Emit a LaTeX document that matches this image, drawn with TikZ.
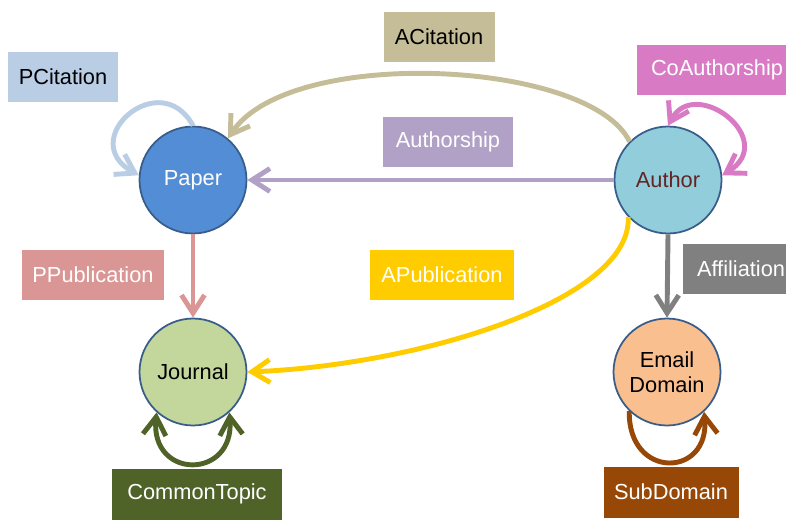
\documentclass[tikz,border=0pt]{standalone}
\usepackage{fontspec}
\setmainfont{Liberation Sans}
\usetikzlibrary{arrows.meta, positioning}

\definecolor{borderblue}{RGB}{56,93,138}
\definecolor{paperfill}{RGB}{83,141,213}
\definecolor{authorfill}{RGB}{146,205,220}
\definecolor{journalfill}{RGB}{195,214,155}
\definecolor{emailfill}{RGB}{250,191,143}
\definecolor{authortext}{RGB}{99,37,35}
\definecolor{pcitcol}{RGB}{185,205,229}
\definecolor{acitcol}{RGB}{196,189,151}
\definecolor{authshipcol}{RGB}{178,161,199}
\definecolor{coauthcol}{RGB}{217,123,196}
\definecolor{ppubcol}{RGB}{217,150,148}
\definecolor{apubcol}{RGB}{255,204,0}
\definecolor{affilcol}{RGB}{128,128,128}
\definecolor{topiccol}{RGB}{79,98,40}
\definecolor{subdomcol}{RGB}{151,72,6}

\begin{document}
\begin{tikzpicture}[
    x=0.02cm, y=-0.02cm,
    entity/.style={
        circle,
        draw=borderblue,
        line width=1pt,
        minimum size=2.14cm,
        inner sep=0pt,
        align=center,
        font=\fontsize{12.4}{14.5}\selectfont
    },
    relation/.style={
        rectangle,
        minimum height=1.02cm,
        inner sep=2pt,
        text=white,
        font=\fontsize{12.4}{14.5}\selectfont
    },
    link/.style={
        line width=2.8pt,
        -{Straight Barb[length=3.6mm, width=4.6mm]}
    }
]
    \useasboundingbox (0,0) rectangle (786,520);

    % Entities
    \node [entity, fill=paperfill, text=white] (paper) at (193,180) {Paper};
    \node [entity, fill=authorfill, text=authortext] (author) at (668,180) {Author};
    \node [entity, fill=journalfill] (journal) at (193,372) {Journal};
    \node [entity, fill=emailfill] (email) at (667,372) {Email\\Domain};

    % Relation labels
    \node [relation, fill=pcitcol, text=black, minimum width=2.2cm] (pcit) at (63,77) {PCitation};
    \node [relation, fill=acitcol, text=black, minimum width=2.22cm] (acit) at (439,37) {ACitation};
    \node [relation, fill=authshipcol, minimum width=2.6cm] (authship) at (448,142) {Authorship};
    \node [relation, fill=coauthcol, minimum width=3.2cm] (coauth) at (717,70) {CoAuthorship};
    \node [relation, fill=ppubcol, minimum width=2.84cm] (ppub) at (93,275) {PPublication};
    \node [relation, fill=apubcol, minimum width=2.88cm] (apub) at (442,275) {APublication};
    \node [relation, fill=affilcol, minimum width=2.34cm] (affil) at (741,269) {Affiliation};
    \node [relation, fill=topiccol, minimum width=3.42cm] (topic) at (197,494) {CommonTopic};
    \node [relation, fill=subdomcol, minimum width=2.7cm] (subdom) at (671,492) {SubDomain};

    % Arrows
    \draw [link, draw=authshipcol] (author.west) -- (paper.east);
    \draw [link, draw=acitcol] (author.135) .. controls (590,60) and (290,45) .. (paper.50);
    \draw [link, draw=pcitcol] (paper.north) .. controls (160,65) and (75,140) .. (paper.175);
    \draw [link, {Straight Barb[length=3.6mm, width=4.6mm]}-{Straight Barb[length=3.6mm, width=4.6mm]}, draw=coauthcol]
        (author.north) .. controls (695,75) and (780,140) .. (author.5);
    \draw [link, draw=ppubcol] (paper.south) -- (journal.north);
    \draw [link, draw=apubcol] (author.223) .. controls (632,300) and (420,365) .. (journal.east);
    \draw [link, draw=affilcol] (author.south) -- (email.north);
    \draw [link, {Straight Barb[length=3.6mm, width=4.6mm]}-{Straight Barb[length=3.6mm, width=4.6mm]}, draw=topiccol]
        (journal.228) .. controls (150,480) and (235,480) .. (journal.312);
    \draw [link, draw=subdomcol] (email.226) .. controls (628,480) and (710,478) .. (email.313);
\end{tikzpicture}
\end{document}
